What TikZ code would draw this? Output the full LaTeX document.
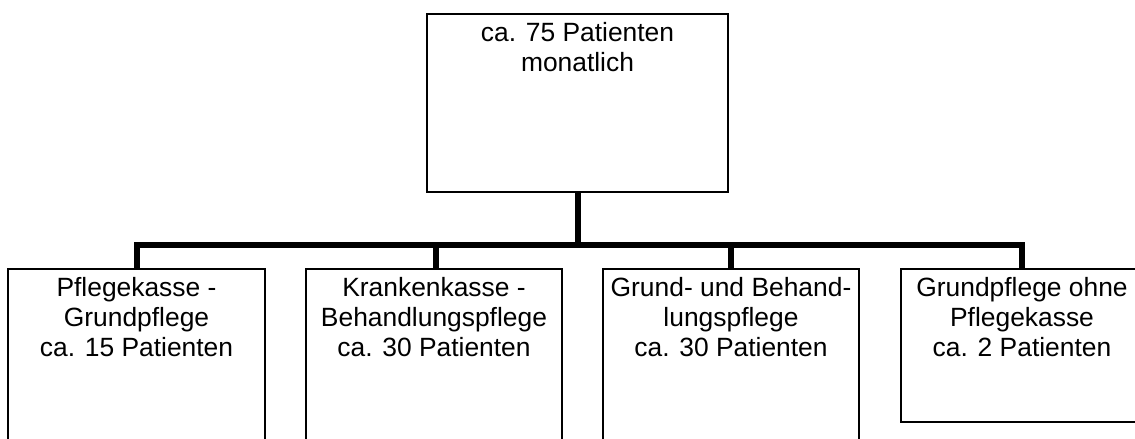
\documentclass[tikz,border=0pt]{standalone}
\usepackage{fontspec}
\setmainfont{Liberation Sans}
\newcommand\mylines[1]{\begin{tabular}[t]{@{}c@{}}#1\end{tabular}}
\begin{document}
\begin{tikzpicture}[x=1pt,y=-1pt,
  boxst/.style={draw=black, line width=1.2pt, fill=white, inner sep=0pt, outer sep=0pt, rectangle},
  txt/.style={anchor=base, inner sep=0pt, font=\fontsize{26.4}{30}\selectfont},
  conn/.style={draw=black, line width=5.5pt, line join=miter}]
\useasboundingbox (0,0) rectangle (1135,439);
\clip (0,0) rectangle (1135,439);
\fill[white] (0,0) rectangle (1135,439);
% boxes
\node[boxst, minimum width=301pt, minimum height=178pt] (top) at (577.5,103) {};
\node[boxst, minimum width=257pt, minimum height=211pt] (b1) at (136.5,374.5) {};
\node[boxst, minimum width=256pt, minimum height=211pt] (b2) at (434,374.5) {};
\node[boxst, minimum width=256pt, minimum height=211pt] (b3) at (731,374.5) {};
\node[boxst, minimum width=242pt, minimum height=153pt] (b4) at (1022,345.5) {};
% texts
\node[txt] (ttop) at ([yshift=-27.7pt]top.north) {\mylines{ca. 75 Patienten\\monatlich}};
\node[txt] (t1) at ([yshift=-27.7pt]b1.north) {\mylines{Pflegekasse -\\Grundpflege\\ca. 15 Patienten}};
\node[txt] (t2) at ([yshift=-27.7pt]b2.north) {\mylines{Krankenkasse -\\Behandlungspflege\\ca. 30 Patienten}};
\node[txt] (t3) at ([yshift=-27.7pt]b3.north) {\mylines{Grund- und Behand-\\lungspflege\\ca. 30 Patienten}};
\node[txt] (t4) at ([yshift=-27.7pt]b4.north) {\mylines{Grundpflege ohne\\Pflegekasse\\ca. 2 Patienten}};
% connectors
\coordinate (j) at (578,245);
\coordinate (c1) at (137,269);
\coordinate (c2) at (436,269);
\draw[conn] ([xshift=0.5pt]top.south) -- (j);
\draw[conn] (c1) -- (c1 |- j) -- (b4.north |- j) -- (b4.north);
\draw[conn] (c2) -- (c2 |- j);
\draw[conn] (b3.north) -- (b3.north |- j);
\end{tikzpicture}
\end{document}
